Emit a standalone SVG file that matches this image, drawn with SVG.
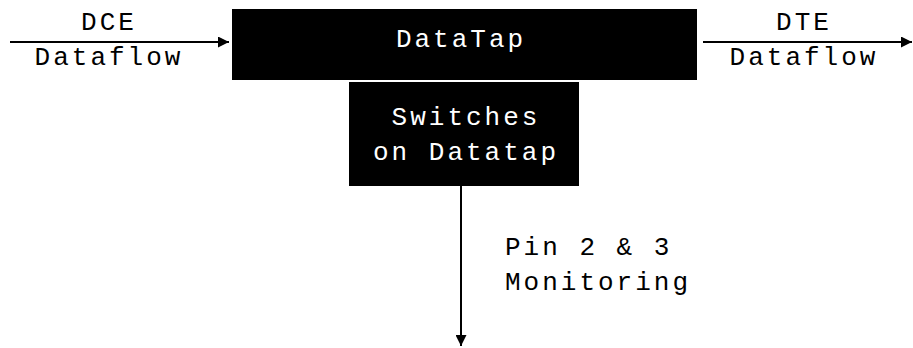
<svg xmlns="http://www.w3.org/2000/svg" width="913" height="348" viewBox="0 0 913 348">
<style>
text{font-family:"Liberation Mono","Courier New",monospace;font-size:26px;letter-spacing:3px;}
.lbl{fill:#000;}
.inv{fill:#fff;}
.box{fill:#000;}
.line{stroke:#000;stroke-width:2;fill:none;}
</style>
<defs>
<marker id="ahv" viewBox="0 0 10 10" refX="10" refY="5" markerWidth="16" markerHeight="11" markerUnits="userSpaceOnUse" orient="auto">
<path d="M0,0 L10,5 L0,10 z" fill="#000"/>
</marker>
</defs>
<g id="connectors">
<line class="line" x1="10" y1="42" x2="229" y2="42" marker-end="url(#ahv)"/>
<line class="line" x1="703" y1="42" x2="912" y2="42" marker-end="url(#ahv)"/>
<line class="line" x1="461" y1="186" x2="461" y2="346" marker-end="url(#ahv)"/>
</g>
<g id="datatap">
<rect class="box" x="232" y="9" width="465" height="71"/>
<text class="inv" x="461" y="47" text-anchor="middle">DataTap</text>
</g>
<g id="switches">
<rect class="box" x="349" y="82" width="230" height="104"/>
<text class="inv" x="466" y="125" text-anchor="middle">Switches</text>
<text class="inv" x="466" y="160" text-anchor="middle">on Datatap</text>
</g>
<g id="dce-label">
<text class="lbl" x="109" y="30" text-anchor="middle">DCE</text>
<text class="lbl" x="109" y="65" text-anchor="middle">Dataflow</text>
</g>
<g id="dte-label">
<text class="lbl" x="804" y="30" text-anchor="middle">DTE</text>
<text class="lbl" x="804" y="65" text-anchor="middle">Dataflow</text>
</g>
<g id="monitor-label">
<text class="lbl" x="505" y="255">Pin 2 &amp; 3</text>
<text class="lbl" x="505" y="290">Monitoring</text>
</g>
</svg>
